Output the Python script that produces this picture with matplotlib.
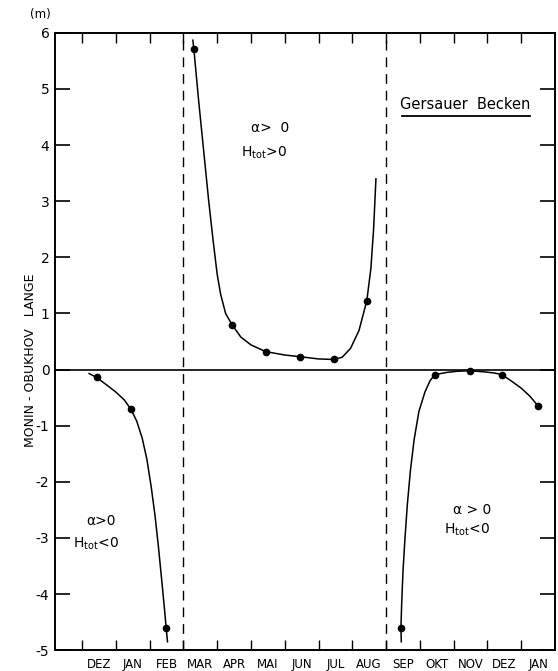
import matplotlib.pyplot as plt

months = ["DEZ", "JAN", "FEB", "MAR", "APR", "MAI", "JUN", "JUL",
          "AUG", "SEP", "OKT", "NOV", "DEZ", "JAN"]
month_pos = [i + 0.5 for i in range(len(months))]

# measured points (x in months from the left tick, y in m)
pts_x = [0.43, 1.45, 2.49, 3.31, 4.44, 5.44, 6.45, 7.46, 8.43,
         9.44, 10.44, 11.48, 12.43, 13.49]
pts_y = [-0.14, -0.71, -4.6, 5.71, 0.80, 0.32, 0.23, 0.18, 1.23,
         -4.6, -0.09, -0.03, -0.09, -0.64]

# hand drawn curves
winter1_x = [0.21, 0.43, 0.7, 1.0, 1.25, 1.45, 1.62, 1.78, 1.92, 2.05,
             2.16, 2.26, 2.35, 2.43, 2.49, 2.53]
winter1_y = [-0.07, -0.14, -0.26, -0.40, -0.54, -0.71, -0.92, -1.22, -1.6, -2.1,
             -2.6, -3.15, -3.7, -4.2, -4.6, -4.85]

summer_x = [3.28, 3.31, 3.45, 3.6, 3.75, 3.88, 4.0, 4.1, 4.25, 4.44,
            4.7, 5.0, 5.44, 6.0, 6.45, 7.0, 7.46, 7.7, 7.95, 8.2,
            8.43, 8.55, 8.63, 8.70]
summer_y = [5.87, 5.71, 4.8, 3.9, 3.0, 2.3, 1.7, 1.35, 1.0, 0.80,
            0.58, 0.44, 0.32, 0.26, 0.23, 0.19, 0.18, 0.22, 0.38, 0.7,
            1.23, 1.8, 2.5, 3.4]

winter2_x = [9.45, 9.44, 9.46, 9.5, 9.56, 9.63, 9.72, 9.83, 9.97, 10.15,
             10.3, 10.44, 10.8, 11.1, 11.48, 11.9, 12.2, 12.43, 12.7, 13.0,
             13.25, 13.49]
winter2_y = [-4.85, -4.6, -4.2, -3.6, -3.0, -2.4, -1.8, -1.25, -0.75, -0.4,
             -0.2, -0.09, -0.05, -0.03, -0.02, -0.04, -0.06, -0.09, -0.2, -0.33,
             -0.47, -0.64]

plt.rcParams['font.family'] = ['DejaVu Sans']

fig = plt.figure(figsize=(5.58, 6.71), dpi=100)
ax = fig.add_axes([0.0986, 0.031, 0.896, 0.920])

ax.plot(winter1_x, winter1_y, color='black', lw=1.1)
ax.plot(summer_x, summer_y, color='black', lw=1.1)
ax.plot(winter2_x, winter2_y, color='black', lw=1.1)
ax.plot(pts_x, pts_y, 'o', color='black', ms=4.5)

ax.axhline(0, color='black', lw=1.2)
for xv in [3, 9]:
    ax.axvline(xv, color='black', lw=1.0, dashes=(7, 5))

ax.set_xlim(-0.8, 14.0)
ax.set_ylim(-5, 6)

ax.set_yticks(range(-5, 7))
ax.set_yticklabels([str(v) for v in range(-5, 7)])
ax.set_xticks(range(0, 14))
ax.set_xticklabels([])
ax.tick_params(axis='y', direction='in', length=11, width=1.2, labelsize=10, pad=4,
               right=True)
ax.tick_params(axis='x', direction='in', length=7, width=1.0, top=True)
for m, xp in zip(months, month_pos):
    ax.text(xp, -5.25, m, ha='center', va='center', fontsize=8.5)

for s in ax.spines.values():
    s.set_linewidth(1.4)

ax.text(-0.05, 0.47, "MONIN - OBUKHOV   LANGE", transform=ax.transAxes,
        rotation=90, ha='center', va='center', fontsize=9)
ax.text(-0.03, 1.03, "(m)", transform=ax.transAxes, ha='center', va='center',
        fontsize=8.5)

ax.text(11.33, 4.73, "Gersauer  Becken", ha='center', va='center', fontsize=10.5)
ax.plot([9.47, 13.25], [4.52, 4.52], color='black', lw=1.3)

ax.text(5.56, 4.3, "α>  0", ha='center', va='center', fontsize=10)
ax.text(5.4, 3.87, r"H$_{\rm tot}$>0", ha='center', va='center', fontsize=10)
ax.text(0.55, -2.7, "α>0", ha='center', va='center', fontsize=10)
ax.text(0.4, -3.1, r"H$_{\rm tot}$<0", ha='center', va='center', fontsize=10)
ax.text(11.55, -2.5, "α > 0", ha='center', va='center', fontsize=10)
ax.text(11.4, -2.85, r"H$_{\rm tot}$<0", ha='center', va='center', fontsize=10)

fig.savefig("out.png", dpi=100)
